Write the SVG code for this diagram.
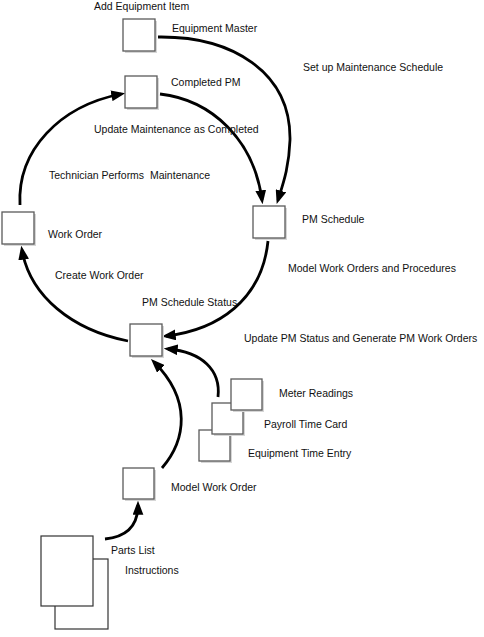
<svg xmlns="http://www.w3.org/2000/svg" width="484" height="637" viewBox="0 0 484 637">
<style>
.box{fill:#fff;stroke:#5a5a5a;stroke-width:1.3}
.sh{fill:#d6d6d6}
.doc{fill:#fff;stroke:#333;stroke-width:1.2}
.lbl{font-family:"Liberation Sans",Arial,sans-serif;font-size:10.5px;fill:#111}
.con{fill:none;stroke:#000;stroke-width:2.8;marker-end:url(#ah)}
</style>
<defs>
<marker id="ah" markerUnits="userSpaceOnUse" markerWidth="14" markerHeight="11" viewBox="0 0 13 10" refX="9" refY="5" orient="auto">
<path d="M0,0 L13,5 L0,10 z" fill="#000"/>
</marker>
</defs>
<rect width="484" height="637" fill="#fff"/>
<g id="connectors">
<path class="con" d="M158,37 C232,36 291,72 290,140 C289,168 283,184 278,200"/>
<path class="con" d="M160,94 C212,100 254,140 262,200"/>
<path class="con" d="M20,205 C17,150 60,106 121,94"/>
<path class="con" d="M268,241 C262,300 218,330 166,336"/>
<path class="con" d="M128,341 C72,330 30,296 22,250"/>
<path class="con" d="M218,397 C221,370 202,352 168,349"/>
<path class="con" d="M162,468 C186,440 192,400 154,362"/>
<path class="con" d="M105,539 C125,537 138,527 138,505"/>
</g>
<g id="equipment-master"><rect class="sh" x="125" y="21" width="32" height="32"/><rect class="box" x="123" y="19" width="32" height="32"/></g>
<g id="completed-pm"><rect class="sh" x="127" y="78" width="32" height="32"/><rect class="box" x="125" y="76" width="32" height="32"/></g>
<g id="work-order"><rect class="sh" x="4" y="214" width="32" height="32"/><rect class="box" x="2" y="212" width="32" height="32"/></g>
<g id="pm-schedule"><rect class="sh" x="255" y="208" width="32" height="32"/><rect class="box" x="253" y="206" width="32" height="32"/></g>
<g id="pm-schedule-status"><rect class="sh" x="132" y="326" width="32" height="32"/><rect class="box" x="130" y="324" width="32" height="32"/></g>
<g id="equipment-time-entry"><rect class="sh" x="201" y="432" width="31" height="31"/><rect class="box" x="199" y="430" width="31" height="31"/></g>
<g id="payroll-time-card"><rect class="sh" x="214" y="405" width="31" height="31"/><rect class="box" x="212" y="403" width="31" height="31"/></g>
<g id="meter-readings"><rect class="sh" x="233" y="381" width="31" height="31"/><rect class="box" x="231" y="379" width="31" height="31"/></g>
<g id="model-work-order"><rect class="sh" x="125" y="470" width="31" height="31"/><rect class="box" x="123" y="468" width="31" height="31"/></g>
<g id="instructions"><rect class="doc" x="55" y="559" width="53" height="70"/></g>
<g id="parts-list"><rect class="doc" x="41" y="536" width="52" height="70"/></g>
<g id="labels">
<text class="lbl" x="94" y="10">Add Equipment Item</text>
<text class="lbl" x="172" y="32">Equipment Master</text>
<text class="lbl" x="303" y="71">Set up Maintenance Schedule</text>
<text class="lbl" x="171" y="86">Completed PM</text>
<text class="lbl" x="94" y="133">Update Maintenance as Completed</text>
<text class="lbl" x="49" y="179" xml:space="preserve">Technician Performs  Maintenance</text>
<text class="lbl" x="48" y="238">Work Order</text>
<text class="lbl" x="302" y="223">PM Schedule</text>
<text class="lbl" x="288" y="272">Model Work Orders and Procedures</text>
<text class="lbl" x="55" y="279">Create Work Order</text>
<text class="lbl" x="142" y="306">PM Schedule Status</text>
<text class="lbl" x="244" y="342">Update PM Status and Generate PM Work Orders</text>
<text class="lbl" x="279" y="397">Meter Readings</text>
<text class="lbl" x="264" y="428">Payroll Time Card</text>
<text class="lbl" x="248" y="457">Equipment Time Entry</text>
<text class="lbl" x="171" y="491">Model Work Order</text>
<text class="lbl" x="111" y="554">Parts List</text>
<text class="lbl" x="125" y="574">Instructions</text>
</g>
</svg>
